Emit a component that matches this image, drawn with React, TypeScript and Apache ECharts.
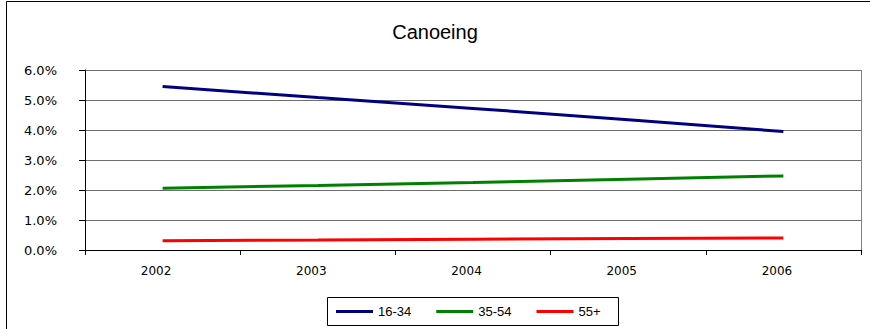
import React, { useEffect, useRef } from "react";
import * as echarts from "echarts";

const years = ["2002", "2003", "2004", "2005", "2006"];
const age1634 = [5.45, 5.08, 4.72, 4.34, 3.95];
const age3554 = [2.06, 2.15, 2.25, 2.36, 2.47];
const age55plus = [0.31, 0.33, 0.36, 0.38, 0.40];
const seriesNames = ["16-34", "35-54", "55+"];
const seriesColors = ["#000080", "#008000", "#FF0000"];

export default function App() {
  const ref = useRef<HTMLDivElement>(null);
  useEffect(() => {
    if (!ref.current) return;
    const chart = echarts.init(ref.current, null, { renderer: "svg" });
    const font = "Liberation Sans, Arial, sans-serif";
    const axisFont = "DejaVu Sans, Verdana, sans-serif";
    const data = [age1634, age3554, age55plus];
    chart.setOption({
      animation: false,
      backgroundColor: "#ffffff",
      title: {
        text: "Canoeing",
        left: "center",
        top: 22,
        padding: 0,
        textStyle: { fontFamily: font, fontSize: 20, fontWeight: "normal", color: "#000" },
      },
      graphic: [
        {
          type: "rect",
          shape: { x: 6.5, y: 1.5, width: 900, height: 400 },
          style: { fill: "none", stroke: "#000", lineWidth: 1 },
          silent: true,
        },
        {
          type: "rect",
          shape: { x: 327.5, y: 297.5, width: 291, height: 28 },
          style: { fill: "#fff", stroke: "#000", lineWidth: 1 },
          silent: true,
          z: 0,
        },
      ],
      legend: {
        data: seriesNames,
        left: 336,
        top: 305,
        padding: 0,
        itemWidth: 37,
        itemHeight: 3,
        itemGap: 25,
        icon: "rect",
        textStyle: { fontFamily: font, fontSize: 13, color: "#000" },
        z: 10,
      },
      grid: { left: 85, top: 70, right: 9, bottom: 79 },
      xAxis: {
        type: "category",
        data: years,
        boundaryGap: true,
        axisLine: { lineStyle: { color: "#000", width: 1 } },
        axisTick: { show: true, length: 5, inside: false, lineStyle: { color: "#000" } },
        axisLabel: {
          fontFamily: axisFont,
          fontSize: 12,
          color: "#000",
          margin: 15,
          padding: [0, 13, 0, 0],
        },
        splitLine: { show: false },
      },
      yAxis: {
        type: "value",
        min: 0,
        max: 6,
        interval: 1,
        axisLine: { show: true, lineStyle: { color: "#000", width: 1 } },
        axisTick: { show: true, length: 6, lineStyle: { color: "#000" } },
        axisLabel: {
          fontFamily: axisFont,
          fontSize: 13,
          color: "#000",
          margin: 28,
          formatter: (v: number) => v.toFixed(1) + "%",
        },
        splitLine: { show: true, lineStyle: { color: "#6e6e6e", width: 1 } },
      },
      series: [
        ...data.map((d, i) => ({
          name: seriesNames[i],
          type: "line",
          data: d,
          symbol: "none",
          lineStyle: { color: seriesColors[i], width: 3 },
          itemStyle: { color: seriesColors[i] },
          z: 3,
        })),
        {
          type: "line",
          data: [],
          markLine: {
            silent: true,
            symbol: "none",
            label: { show: false },
            lineStyle: { color: "#808080", width: 1, type: "solid" },
            data: [[{ x: 861, y: 70 }, { x: 861, y: 250 }]],
          },
        },
      ],
    });
    return () => chart.dispose();
  }, []);
  return (
    <div
      ref={ref}
      style={{ position: "fixed", left: 0, top: 0, width: 870, height: 329 }}
    />
  );
}
